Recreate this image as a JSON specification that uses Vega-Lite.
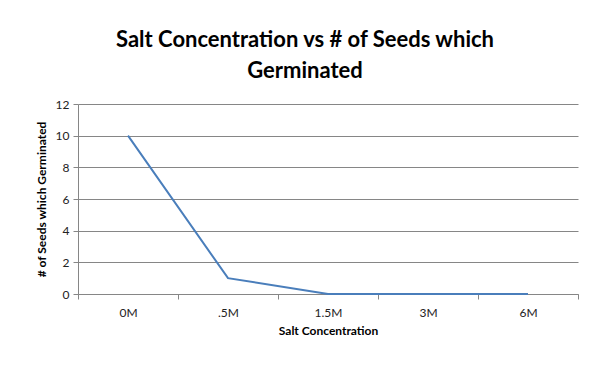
{
  "$schema": "https://vega.github.io/schema/vega-lite/v6.json",
  "autosize": "none",
  "width": 500,
  "height": 190,
  "padding": {"left": 78, "top": 104, "right": 33, "bottom": 77},
  "background": "white",
  "title": {
    "text": ["Salt Concentration vs # of Seeds which", "Germinated"],
    "font": "Lato",
    "fontSize": 22,
    "fontWeight": "bold",
    "color": "#000000",
    "anchor": "middle",
    "dx": -23,
    "offset": 15,
    "lineHeight": 31
  },
  "data": {
    "values": [
      {"conc": "0M", "seeds": 10},
      {"conc": ".5M", "seeds": 1},
      {"conc": "1.5M", "seeds": 0},
      {"conc": "3M", "seeds": 0},
      {"conc": "6M", "seeds": 0}
    ]
  },
  "mark": {"type": "line", "color": "#4a7ebb", "strokeWidth": 2},
  "encoding": {
    "x": {
      "field": "conc",
      "type": "ordinal",
      "sort": null,
      "title": "Salt Concentration",
      "scale": {"paddingInner": 0, "paddingOuter": 0},
      "axis": {
        "labelAngle": 0,
        "tickBand": "extent",
        "grid": false,
        "domainColor": "#868686",
        "tickColor": "#868686",
        "tickSize": 5,
        "labelFont": "Lato",
        "labelFontSize": 12,
        "labelColor": "#222222",
        "labelPadding": 8,
        "titleFont": "Lato",
        "titleFontSize": 12,
        "titleFontWeight": "bold",
        "titleColor": "#000000",
        "titlePadding": 7
      }
    },
    "y": {
      "field": "seeds",
      "type": "quantitative",
      "title": "# of Seeds which Germinated",
      "scale": {"domain": [0, 12], "nice": false},
      "axis": {
        "values": [0, 2, 4, 6, 8, 10, 12],
        "grid": true,
        "gridColor": "#868686",
        "gridWidth": 1,
        "domainColor": "#868686",
        "tickColor": "#868686",
        "tickSize": 5,
        "labelFont": "Lato",
        "labelFontSize": 12,
        "labelColor": "#222222",
        "labelPadding": 4,
        "titleFont": "Lato",
        "titleFontSize": 12,
        "titleFontWeight": "bold",
        "titleColor": "#000000",
        "titlePadding": 7
      }
    }
  },
  "config": {"view": {"stroke": null}}
}
